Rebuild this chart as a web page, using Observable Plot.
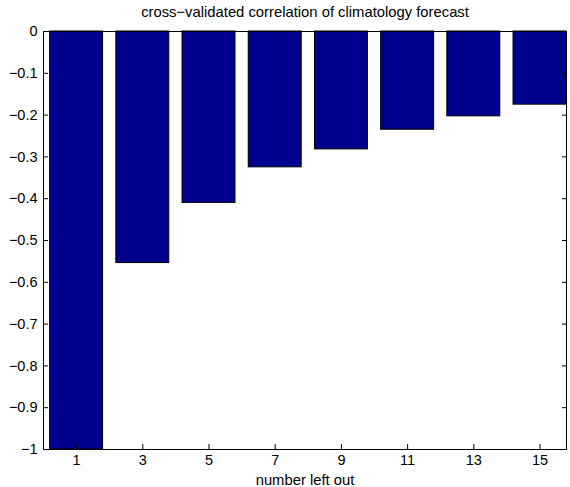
<!DOCTYPE html>
<html>
<head>
<meta charset="utf-8">
<script src="https://cdn.jsdelivr.net/npm/d3@7"></script>
<script src="https://cdn.jsdelivr.net/npm/@observablehq/plot@0.6"></script>
<style>
  html, body { margin: 0; padding: 0; background: #fff; }
  svg { display: block; }
</style>
</head>
<body>
<div id="chart"></div>
<script>
const numberLeftOut = [1, 3, 5, 7, 9, 11, 13, 15];
const correlation = [-1.0, -0.554, -0.410, -0.325, -0.282, -0.235, -0.203, -0.175];
const yTicks = [0, -0.1, -0.2, -0.3, -0.4, -0.5, -0.6, -0.7, -0.8, -0.9, -1];
const xTicks = numberLeftOut;
const titleText = "cross\u2212validated correlation of climatology forecast";
const xLabel = "number left out";

const data = numberLeftOut.map((n, i) => ({n, v: correlation[i]}));
const halfWidth = 0.8;
const fmt = d3.format("");

const chart = Plot.plot({
  width: 570,
  height: 487,
  marginLeft: 43,
  marginRight: 4,
  marginTop: 31,
  marginBottom: 38,
  style: {fontFamily: "'Liberation Sans', Arial, Helvetica, sans-serif", fontSize: "14.5px", background: "#fff", color: "#000"},
  x: {domain: [0, 15.8]},
  y: {domain: [-1, 0]},
  marks: [
    Plot.rect(data, {x1: d => d.n - halfWidth, x2: d => d.n + halfWidth, y1: 0, y2: d => d.v, fill: "#00008f", stroke: "#000", strokeWidth: 1}),
    Plot.axisY({ticks: yTicks, anchor: "left", tickSize: -5, tickPadding: 11, tickFormat: fmt, label: null, fontSize: 14.5}),
    Plot.axisY({ticks: yTicks, anchor: "right", tickSize: -5, tickFormat: () => "", label: null}),
    Plot.axisX({ticks: xTicks, anchor: "bottom", tickSize: -5, tickPadding: 10, tickFormat: fmt, label: null, fontSize: 14.5}),
    Plot.frame({stroke: "#000", strokeWidth: 1}),
    Plot.text([titleText], {frameAnchor: "top", lineAnchor: "middle", dy: -19, fontSize: 14.8, text: d => d}),
    Plot.text([xLabel], {frameAnchor: "bottom", lineAnchor: "middle", dy: 31, fontSize: 14.8, text: d => d})
  ]
});
document.getElementById("chart").appendChild(chart);
</script>
</body>
</html>
